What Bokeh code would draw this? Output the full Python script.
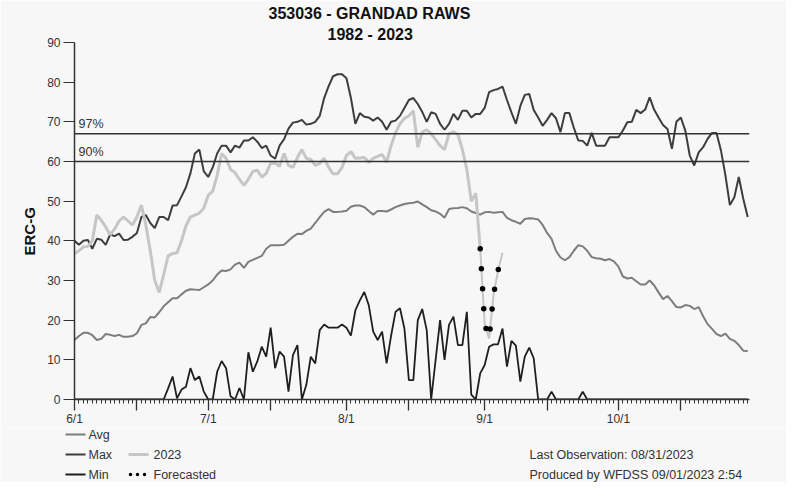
from bokeh.plotting import figure
from bokeh.layouts import column
from bokeh.models import Range1d, FixedTicker, Span, Label, Title
from bokeh.embed import file_html
from bokeh.resources import INLINE
from bokeh.core.properties import value

# ---------------- data ----------------
title_line1 = "353036 - GRANDAD RAWS"
title_line2 = "1982 - 2023"
y_label = "ERC-G"

month_tick_days = [0, 30, 61, 92, 122]
month_tick_labels = ["6/1", "7/1", "8/1", "9/1", "10/1"]
mid_month_days = [14, 44, 75, 106, 136]
y_ticks = [0, 10, 20, 30, 40, 50, 60, 70, 80, 90]

pct97 = 67
pct90 = 60

avg = [15.0, 16.0, 16.8, 16.8, 16.2, 15.0, 15.3, 16.5, 16.3, 16.0,
       16.3, 15.8, 15.8, 16.0, 16.7, 18.8, 19.2, 20.8, 20.7, 22.0,
       23.5, 24.5, 25.5, 25.5, 26.5, 27.4, 27.8, 27.7, 27.6, 28.3,
       29.0, 30.0, 31.5, 32.5, 32.4, 32.8, 34.0, 34.5, 33.2, 34.7,
       35.2, 35.7, 36.2, 38.0, 38.9, 38.9, 38.9, 39.0, 40.0, 41.0,
       41.8, 41.7, 42.5, 43.1, 44.5, 46.0, 47.3, 48.0, 47.3, 47.3,
       47.4, 47.6, 48.6, 48.9, 48.9, 48.5, 47.5, 46.6, 47.5, 47.5,
       47.4, 47.9, 48.5, 48.9, 49.3, 49.5, 49.6, 49.9, 49.2, 48.5,
       47.7, 47.4, 46.8, 45.8, 48.0, 48.2, 48.3, 48.5, 48.2, 47.4,
       47.0, 46.6, 47.2, 47.3, 47.1, 47.2, 47.3, 45.8, 45.2, 44.8,
       44.3, 45.5, 45.7, 45.6, 45.4, 44.0, 42.0, 40.5, 37.5, 35.8,
       35.1, 35.9, 37.5, 38.9, 38.6, 37.5, 35.9, 35.6, 35.5, 35.1,
       35.4, 34.8, 33.5, 31.0, 30.5, 30.7, 29.8, 29.0, 29.0, 30.0,
       28.8, 27.0, 25.3, 26.1, 24.8, 23.3, 23.2, 23.8, 23.6, 22.8,
       23.3, 21.0, 19.0, 17.8, 16.5, 16.0, 16.6, 15.3, 14.8, 13.7,
       12.3, 12.2]

max_erc = [40.0, 39.0, 40.0, 40.2, 38.0, 40.5, 40.3, 39.0, 41.6, 41.2,
           41.8, 40.2, 40.3, 41.0, 42.0, 46.0, 46.5, 44.5, 43.2, 46.0,
           46.0, 45.2, 48.9, 49.0, 51.2, 53.5, 57.0, 62.0, 63.0, 57.5,
           56.1, 58.5, 62.0, 64.0, 64.0, 62.3, 64.0, 63.5, 65.3, 65.3,
           66.1, 65.0, 63.4, 64.0, 61.5, 60.7, 64.0, 65.6, 68.3, 69.8,
           70.0, 70.5, 69.3, 69.5, 70.0, 71.5, 76.0, 79.0, 81.5, 82.0,
           82.0, 81.0, 76.0, 69.5, 72.2, 71.3, 71.1, 70.3, 71.1, 70.0,
           68.0, 70.0, 70.3, 71.5, 73.5, 75.5, 76.0, 74.5, 72.5, 70.0,
           72.4, 72.0, 69.5, 68.0, 69.5, 72.0, 70.5, 72.8, 72.8, 71.1,
           72.0, 72.0, 73.5, 77.5, 78.0, 78.3, 78.9, 75.5, 72.4, 69.5,
           74.0, 76.8, 77.0, 73.0, 71.1, 69.0, 70.5, 72.2, 70.9, 67.4,
           72.2, 72.2, 68.5, 65.3, 65.2, 64.0, 67.2, 64.0, 64.0, 64.0,
           66.1, 66.1, 66.1, 67.8, 69.9, 70.0, 73.0, 72.2, 73.1, 76.2,
           73.1, 71.1, 69.2, 68.2, 63.2, 70.0, 71.1, 67.8, 61.5, 59.0,
           62.3, 63.6, 65.7, 67.2, 67.2, 62.8, 56.5, 49.0, 51.0, 56.1,
           50.6, 46.0]

min_erc = [0, 0, 0, 0, 0, 0, 0, 0, 0, 0,
           0, 0, 0, 0, 0, 0, 0, 0, 0, 0,
           0, 2.8, 5.8, 0.3, 2.5, 3.2, 7.9, 4.9, 5.8, 2.0,
           0, 0, 7.0, 9.7, 7.9, 0.8, 0, 2.9, 0, 11.9,
           7.0, 9.6, 13.3, 10.8, 18.1, 7.9, 12.1, 10.8, 2.0, 11.2,
           13.7, 0, 3.7, 10.8, 9.1, 17.5, 18.9, 18.1, 18.1, 18.1,
           18.9, 18.1, 16.1, 22.5, 25.0, 27.1, 23.8, 17.1, 15.0, 17.1,
           9.1, 16.0, 22.1, 23.0, 17.9, 4.9, 4.9, 20.0, 22.8, 17.5,
           0, 10.0, 20.0, 10.0, 18.8, 20.9, 13.7, 13.7, 22.1, 1.2,
           0, 6.6, 8.7, 13.3, 13.9, 13.9, 17.9, 8.3, 14.8, 13.6,
           4.5, 10.8, 13.1, 10.4, 0, 0, 0, 2.0, 0, 0,
           0, 0, 0, 0, 2.0, 0, 0, 0, 0, 0,
           0, 0, 0, 0, 0, 0, 0, 0, 0, 0,
           0, 0, 0, 0, 0, 0, 0, 0, 0, 0,
           0, 0, 0, 0, 0, 0, 0, 0, 0, 0,
           0, 0]

erc_2023 = [36.8, 37.5, 38.5, 38.6, 40.0, 46.5, 45.2, 43.5, 41.5, 43.0,
            45.0, 46.0, 45.0, 44.0, 46.0, 49.0, 44.0, 37.5, 30.0, 27.0,
            31.5, 36.2, 36.8, 37.0, 40.0, 43.8, 46.0, 46.5, 47.0, 48.2,
            51.5, 52.5, 56.5, 62.0, 60.8, 58.0, 57.2, 55.5, 54.0, 55.5,
            57.5, 57.8, 56.1, 57.0, 59.5, 59.6, 58.8, 62.0, 59.0, 58.5,
            61.0, 63.0, 60.8, 60.5, 59.0, 59.5, 60.8, 58.5, 56.9, 56.9,
            58.5, 61.5, 62.5, 60.8, 60.9, 61.0, 59.8, 60.8, 61.3, 61.8,
            59.8, 64.0, 67.2, 69.5, 70.9, 71.5, 72.8, 63.6, 67.4, 68.0,
            67.0, 65.5, 64.0, 63.0, 67.0, 67.5, 66.8, 63.0, 58.0, 50.0,
            52.0, 38.0]

forecast_days = [91, 92, 93, 94, 95, 96]
forecast_erc = [38.0, 19.0, 15.4, 26.5, 32.5, 37.0]

legend_names = ["Avg", "Max", "Min", "2023", "Forecasted"]
last_obs_text = "Last Observation:  08/31/2023"
produced_text = "Produced by WFDSS  09/01/2023  2:54"

# ---------------- style ----------------
BG = "#f7f7f7"
C_AVG = "#7d7d7d"
C_MAX = "#3d3d3d"
C_MIN = "#1f1f1f"
C_2023 = "#c6c6c6"
C_TXT = "#333333"
FONT = "Liberation Sans"

days = list(range(len(avg)))
days_2023 = list(range(len(erc_2023)))

# ---------------- main chart ----------------
p = figure(width=786, height=428, output_backend="svg", toolbar_location=None,
           x_range=Range1d(0, 151.4), y_range=Range1d(0, 90),
           min_border_left=74, min_border_right=37, min_border_top=42,
           min_border_bottom=28, background_fill_color=BG,
           border_fill_color=BG, outline_line_color=None, frame_align=False)
p.grid.visible = False

major_days = sorted(month_tick_days + mid_month_days)
xa = p.xaxis[0]
xa.ticker = FixedTicker(ticks=major_days, minor_ticks=days)
overrides = {d: "" for d in mid_month_days}
overrides.update({d: l for d, l in zip(month_tick_days, month_tick_labels)})
xa.major_label_overrides = overrides
xa.major_tick_out = 11
xa.major_tick_in = 0
xa.minor_tick_out = 4
xa.minor_tick_in = 0
xa.axis_line_width = 1.5
xa.axis_line_color = C_TXT
xa.major_tick_line_color = C_TXT
xa.major_tick_line_width = 1.3
xa.minor_tick_line_color = C_TXT
xa.major_label_text_font = FONT
xa.major_label_text_font_size = "12px"
xa.major_label_text_color = C_TXT
xa.major_label_standoff = 1

ya = p.yaxis[0]
ya.ticker = FixedTicker(ticks=y_ticks, minor_ticks=[])
ya.major_tick_out = 11
ya.major_tick_in = 0
ya.axis_line_width = 1.5
ya.axis_line_color = C_TXT
ya.major_tick_line_color = C_TXT
ya.major_tick_line_width = 1.2
ya.major_label_text_font = FONT
ya.major_label_text_font_size = "12px"
ya.major_label_text_color = C_TXT
ya.major_label_standoff = 3

# titles (in side panels so they are not clipped)
p.add_layout(Title(text=title_line2, align="left", offset=253, standoff=0,
                   text_font=FONT, text_font_size="16px", text_font_style="bold",
                   text_color="#111111"), "above")
p.add_layout(Title(text=title_line1, align="left", offset=194, standoff=0,
                   vertical_align="top",
                   text_font=FONT, text_font_size="16px", text_font_style="bold",
                   text_color="#111111"), "above")
p.add_layout(Title(text=y_label, align="left", offset=144, standoff=14,
                   text_font=FONT, text_font_size="15px", text_font_style="bold",
                   text_color="#111111"), "left")

# percentile lines
for lvl, txt in [(pct97, "97%"), (pct90, "90%")]:
    p.add_layout(Span(location=lvl, dimension="width", line_color=C_TXT, line_width=1.3))
    p.add_layout(Label(x=4, x_units="screen", y=lvl, y_offset=3, text=txt,
                       text_font=FONT, text_font_size="12.5px", text_color=C_TXT,
                       text_baseline="bottom", text_align="left"))

# series
p.line(days, avg, line_color=C_AVG, line_width=2)
p.line(days, min_erc, line_color=C_MIN, line_width=1.8)
p.line(days, max_erc, line_color=C_MAX, line_width=2)
p.line(days_2023, erc_2023, line_color=C_2023, line_width=3)
p.line(forecast_days, forecast_erc, line_color=C_2023, line_width=2)
p.line(forecast_days, forecast_erc, line_color="black", line_width=5.5,
       line_dash="0 20", line_cap="round")

# ---------------- legend / footer strip (page pixel coordinates) ----------------
leg = figure(width=786, height=54, output_backend="svg", toolbar_location=None,
             x_range=Range1d(8, 794), y_range=Range1d(490, 436),
             x_axis_type=None, y_axis_type=None, min_border=0,
             min_border_left=0, min_border_right=0, min_border_top=0,
             min_border_bottom=0, frame_align=False,
             background_fill_color=BG, border_fill_color=BG, outline_line_color=None)
leg.grid.visible = False

row_y = [442, 462, 482]
samples = [
    ([73, 93], row_y[0], C_AVG, 2.2, "solid", "butt"),
    ([73, 93], row_y[1], C_MAX, 2.2, "solid", "butt"),
    ([73, 93], row_y[2], C_MIN, 2.2, "solid", "butt"),
    ([136, 156], row_y[1], C_2023, 3, "solid", "butt"),
    ([138, 156], row_y[2], "black", 3.5, "0 7", "round"),
]
for xs, y, c, w, dash, cap in samples:
    leg.line(xs, [y, y], line_color=c, line_width=w, line_dash=dash, line_cap=cap)

leg.text(x=[96, 96, 96, 161, 161, 537, 537],
         y=[row_y[0], row_y[1], row_y[2], row_y[1], row_y[2], row_y[1], row_y[2]],
         text=legend_names + [last_obs_text, produced_text],
         text_font=value(FONT), text_font_size="12.5px", text_color=C_TXT,
         text_align="left", text_baseline="middle")

layout = column(p, leg, spacing=0)
open("out.html", "w").write(file_html(layout, INLINE))
